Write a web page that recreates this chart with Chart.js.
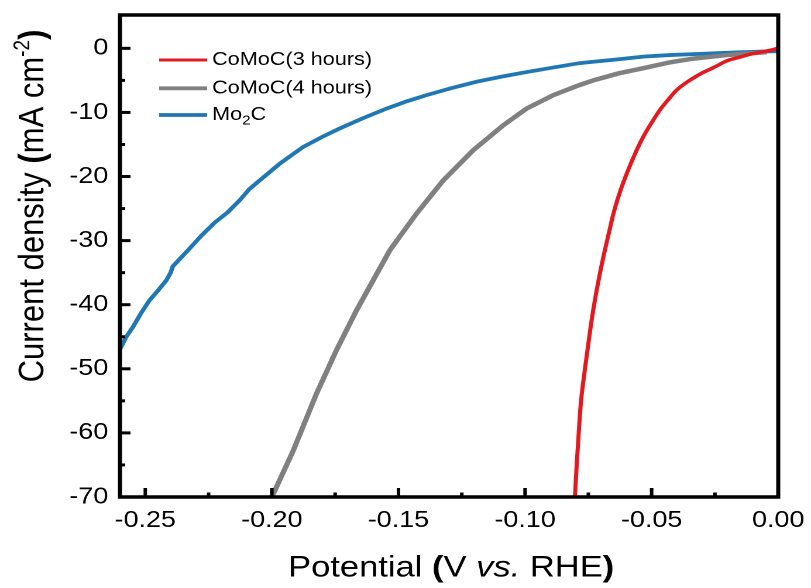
<!DOCTYPE html>
<html>
<head>
<meta charset="utf-8">
<script src="https://cdn.jsdelivr.net/npm/chart.js@4.4.0/dist/chart.umd.min.js"></script>
<style>
  html, body { margin: 0; padding: 0; background: #fff; overflow: hidden; }
  /* the original figure is stretched horizontally, so draw narrow and widen */
  #wrap { width: 693px; height: 588px; transform: scaleX(1.17027); transform-origin: 0 0; }
</style>
</head>
<body>
<div id="wrap"><canvas id="lsv" width="693" height="588"></canvas></div>
<script>
// LSV curves - potential (V vs. RHE) against current density (mA cm-2)
const seriesLabels = ['CoMoC(3 hours)', 'CoMoC(4 hours)', 'Mo\u2082C'];
const seriesColors = ['#e3191f', '#808080', '#1f77b4'];

const potential3h = [-0.0803, -0.0796, -0.0788, -0.0780, -0.0770, -0.0760, -0.0748, -0.0737, -0.0715, -0.0691,
  -0.0670, -0.0651, -0.0625, -0.0598, -0.0565, -0.0533, -0.0500, -0.0467, -0.0430, -0.0401,
  -0.0350, -0.0308, -0.0250, -0.0203, -0.0150, -0.0098, -0.0050, -0.0020, 0.0000];
const current3h = [-70.0, -65.0, -60.0, -55.5, -52.0, -49.0, -45.5, -42.4, -37.3, -32.6,
  -29.0, -25.8, -22.4, -19.5, -16.4, -13.8, -11.6, -9.6, -7.8, -6.5,
  -5.0, -4.0, -2.9, -1.95, -1.35, -0.8, -0.45, -0.2, 0.05];

const potential4h = [-0.2000, -0.1916, -0.1824, -0.1745, -0.1666, -0.1600, -0.1534, -0.1429, -0.1323, -0.1205,
  -0.1086, -0.0994, -0.0888, -0.0783, -0.0730, -0.0630, -0.0533, -0.0430, -0.0335, -0.0203,
  -0.0120, -0.0045];
const current4h = [-70.0, -62.8, -53.9, -47.1, -40.9, -36.2, -31.5, -25.8, -20.6, -15.9,
  -12.0, -9.4, -7.3, -5.7, -5.0, -3.9, -3.1, -2.2, -1.6, -1.05,
  -0.8, -0.6];

const potentialMo2C = [-0.2602, -0.2575, -0.2549, -0.2515, -0.2483, -0.2450, -0.2417, -0.2400, -0.2391, -0.2331,
  -0.2280, -0.2226, -0.2175, -0.2127, -0.2090, -0.2048, -0.1969, -0.1877, -0.1800, -0.1732,
  -0.1640, -0.1547, -0.1470, -0.1389, -0.1290, -0.1191, -0.1090, -0.0994, -0.0890, -0.0783,
  -0.0730, -0.0630, -0.0533, -0.0430, -0.0335, -0.0240, -0.0137, -0.0060, 0.0000];
const currentMo2C = [-47.1, -45.0, -43.5, -41.2, -39.3, -37.8, -36.2, -35.0, -34.0, -31.5,
  -29.3, -27.2, -25.6, -23.7, -22.0, -20.6, -18.0, -15.4, -13.8, -12.5,
  -10.9, -9.4, -8.3, -7.3, -6.2, -5.2, -4.4, -3.7, -3.0, -2.3,
  -2.1, -1.7, -1.3, -1.05, -0.9, -0.75, -0.6, -0.5, -0.45];

const FONT = '"Liberation Sans", Arial, Helvetica, sans-serif';

function toPoints(xs, ys) {
  return xs.map((x, i) => ({ x: x, y: ys[i] }));
}

// frame, inward ticks, axis titles and legend
const decorPlugin = {
  id: 'decor',
  afterDatasetsDraw(chart) {
    const ctx = chart.ctx;
    const a = chart.chartArea;
    const xs = chart.scales.x;
    const ys = chart.scales.y;
    ctx.save();
    ctx.strokeStyle = '#000';
    ctx.lineWidth = 3;
    ctx.lineCap = 'butt';
    // x ticks (major + minor, pointing in)
    const xt = xs.ticks.map(t => t.value);
    xt.forEach((v, i) => {
      const px = xs.getPixelForValue(v);
      ctx.beginPath(); ctx.moveTo(px, a.bottom); ctx.lineTo(px, a.bottom - 9); ctx.stroke();
      if (i < xt.length - 1) {
        const pm = xs.getPixelForValue((v + xt[i + 1]) / 2);
        ctx.beginPath(); ctx.moveTo(pm, a.bottom); ctx.lineTo(pm, a.bottom - 4.5); ctx.stroke();
      }
    });
    const yt = ys.ticks.map(t => t.value);
    yt.forEach((v, i) => {
      const py = ys.getPixelForValue(v);
      ctx.beginPath(); ctx.moveTo(a.left, py); ctx.lineTo(a.left + 9, py); ctx.stroke();
      if (i < yt.length - 1) {
        const pm = ys.getPixelForValue((v + yt[i + 1]) / 2);
        ctx.beginPath(); ctx.moveTo(a.left, pm); ctx.lineTo(a.left + 4.5, pm); ctx.stroke();
      }
    });
    // frame
    ctx.lineWidth = 3.5;
    ctx.strokeRect(a.left, a.top, a.right - a.left, a.bottom - a.top);
    ctx.restore();
  },
  afterDraw(chart) {
    const ctx = chart.ctx;
    ctx.save();
    ctx.fillStyle = '#000';
    ctx.textBaseline = 'alphabetic';
    ctx.textAlign = 'left';

    // x title: Potential (V vs. RHE)
    const xParts = [
      ['Potential ', 'normal'], ['(', 'bold'], ['V ', 'normal'],
      ['vs.', 'italic'], [' RHE', 'normal'], [')', 'bold']
    ];
    const xSize = 29.5;
    let total = 0;
    xParts.forEach(p => { ctx.font = p[1] + ' ' + xSize + 'px ' + FONT; total += ctx.measureText(p[0]).width; });
    let cx = 385.5 - total / 2;
    xParts.forEach(p => {
      ctx.font = p[1] + ' ' + xSize + 'px ' + FONT;
      ctx.fillText(p[0], cx, 576.5);
      cx += ctx.measureText(p[0]).width;
    });

    // y title: Current density (mA cm-2), rotated
    const ySize = 31;
    const yParts = [
      ['Current density ', 'normal', ySize, 0], ['(', 'bold', ySize, 0],
      ['mA cm', 'normal', ySize, 0], ['-2', 'normal', 19, -12], [')', 'bold', ySize, 0]
    ];
    total = 0;
    yParts.forEach(p => { ctx.font = p[1] + ' ' + p[2] + 'px ' + FONT; total += ctx.measureText(p[0]).width; });
    ctx.translate(37, 206);
    ctx.rotate(-Math.PI / 2);
    cx = -total / 2;
    yParts.forEach(p => {
      ctx.font = p[1] + ' ' + p[2] + 'px ' + FONT;
      ctx.fillText(p[0], cx, p[3]);
      cx += ctx.measureText(p[0]).width;
    });
    ctx.restore();

    // legend
    ctx.save();
    const rowY = [60, 88.3, 115];
    chart.data.datasets.forEach((ds, i) => {
      const y = rowY[i];
      ctx.strokeStyle = ds.borderColor;
      ctx.lineWidth = i === 0 ? 3 : 3.8;
      ctx.beginPath(); ctx.moveTo(136, y); ctx.lineTo(177, y); ctx.stroke();
      ctx.fillStyle = '#000';
      ctx.textBaseline = 'middle';
      ctx.font = '18.5px ' + FONT;
      let tx = 181.2;
      const parts = ds.label.split('\u2082');
      ctx.fillText(parts[0], tx, y);
      if (parts.length > 1) {
        tx += ctx.measureText(parts[0]).width;
        ctx.font = '13px ' + FONT;
        ctx.fillText('2', tx, y + 6);
        tx += ctx.measureText('2').width;
        ctx.font = '18.5px ' + FONT;
        ctx.fillText(parts[1], tx, y);
      }
    });
    ctx.restore();
  }
};

try {
  const ctx = document.getElementById('lsv').getContext('2d');
  window.lsvChart = new Chart(ctx, {
    type: 'line',
    data: {
      datasets: [
        {
          label: seriesLabels[0],
          data: toPoints(potential3h, current3h),
          borderColor: seriesColors[0],
          borderWidth: 3.5,
          cubicInterpolationMode: 'monotone',
          pointRadius: 0
        },
        {
          label: seriesLabels[1],
          data: toPoints(potential4h, current4h),
          borderColor: seriesColors[1],
          borderWidth: 4.5,
          tension: 0,
          pointRadius: 0
        },
        {
          label: seriesLabels[2],
          data: toPoints(potentialMo2C, currentMo2C),
          borderColor: seriesColors[2],
          borderWidth: 3.8,
          tension: 0,
          pointRadius: 0
        }
      ]
    },
    options: {
      responsive: false,
      animation: false,
      devicePixelRatio: 2,
      layout: { padding: { left: 0, right: 28, top: 15, bottom: 0 } },
      plugins: {
        legend: { display: false },
        tooltip: { enabled: false }
      },
      scales: {
        x: {
          type: 'linear',
          min: -0.26,
          max: 0,
          grid: { display: false, drawTicks: false },
          border: { display: false },
          ticks: {
            stepSize: 0.05,
            includeBounds: false,
            padding: 10,
            color: '#000',
            font: { family: FONT, size: 23 },
            maxRotation: 0,
            callback: v => v.toFixed(2)
          },
          afterFit(scale) {
            scale.height = 91;
            scale.paddingLeft = 0;
            scale.paddingRight = 0;
          }
        },
        y: {
          type: 'linear',
          min: -70,
          max: 5.2,
          grid: { display: false, drawTicks: false },
          border: { display: false },
          ticks: {
            stepSize: 10,
            includeBounds: false,
            padding: 10,
            color: '#000',
            font: { family: FONT, size: 23 },
            callback: v => String(Math.round(v))
          },
          afterFit(scale) {
            scale.width = 102.5;
            scale.paddingTop = 0;
            scale.paddingBottom = 0;
          }
        }
      }
    },
    plugins: [decorPlugin]
  });
} catch (err) {
  console.error('[LSV] chart error:', err);
}
</script>
</body>
</html>
